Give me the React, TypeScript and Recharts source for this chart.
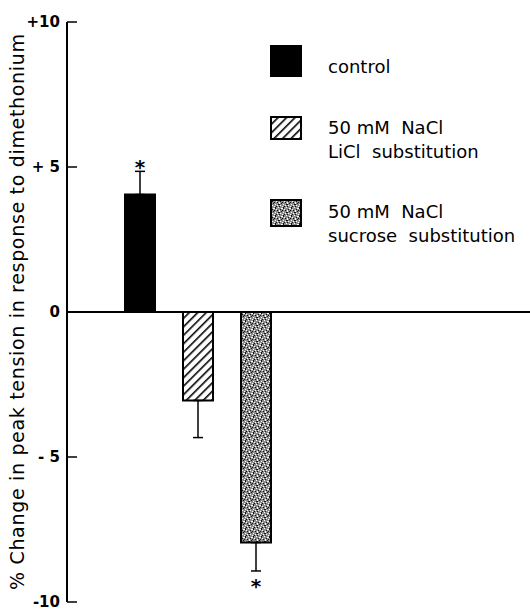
import { Bar, CartesianGrid, Cell, ComposedChart, ErrorBar, Legend, Scatter, XAxis, YAxis } from "recharts";

const CATEGORIES = ["control", "50 mM NaCl LiCl substitution", "50 mM NaCl sucrose substitution"];
const LEGEND_LINES = [["control"], ["50 mM  NaCl", "LiCl  substitution"], ["50 mM  NaCl", "sucrose  substitution"]];
const CHANGE = [4.05, -3.05, -7.95];
const ERR_UP = [0.8, 0, 0];
const ERR_DOWN = [0, 1.28, 0.98];
const STAR_AT = [5.15, null, -9.3];
const Y_TICKS = [-10, -5, 0, 5, 10];
const Y_TICK_LABELS = ["-10", "- 5", "0", "+ 5", "+10"];
const Y_LABEL = "% Change in peak tension in response to dimethonium";

const FILLS = ["#000", "url(#hatch)", "url(#stipple)"];
const FONT = "'DejaVu Sans', sans-serif";

// stipple texture: [x, y, colour] specks on a grey cell
const SPECKS: [number, number, string][] = [
	[0, 0, "#fff"], [3, 1, "#fff"], [4, 1, "#fff"], [1, 3, "#fff"], [1, 4, "#fff"],
	[6, 2, "#fff"], [5, 5, "#fff"], [7, 6, "#fff"], [2, 6, "#fff"], [4, 7, "#fff"],
	[2, 2, "#111"], [5, 0, "#111"], [5, 1, "#111"], [0, 5, "#111"], [1, 5, "#111"],
	[3, 4, "#111"], [7, 3, "#111"], [6, 7, "#111"], [1, 7, "#111"], [4, 3, "#111"],
];

const data = CATEGORIES.map((name, i) => ({
	name,
	change: CHANGE[i],
	err: [ERR_DOWN[i], ERR_UP[i]],
	star: STAR_AT[i],
}));

function AxisTick(props: any) {
	const { x, y, payload } = props;
	const idx = Y_TICKS.indexOf(payload.value);
	const ax = x + 8;
	return (
		<g>
			<line x1={ax} x2={ax + 10} y1={y} y2={y} stroke="#000" strokeWidth={1.5} />
			<text x={x + 1} y={y} textAnchor="end" dominantBaseline="central" fontFamily={FONT} fontWeight="bold" fontSize={15} fill="#000">
				{Y_TICK_LABELS[idx]}
			</text>
		</g>
	);
}

function Star(props: any) {
	const { cx, cy, payload } = props;
	if (payload?.star == null || cy == null || Number.isNaN(cy)) return null;
	return (
		<text x={cx} y={cy + 11} textAnchor="middle" fontFamily={FONT} fontWeight="bold" fontSize={20} fill="#000">
			*
		</text>
	);
}

const SWATCH = [
	{ top: 0, h: 32, textTop: 10 },
	{ top: 71, h: 24, textTop: 71 },
	{ top: 154, h: 28, textTop: 155 },
];

function LegendBox() {
	return (
		<div style={{ position: "relative", width: 260, height: 200, fontFamily: FONT, fontSize: 18, color: "#000" }}>
			{LEGEND_LINES.map((lines, i) => (
				<div key={i}>
					<svg
						width={32}
						height={SWATCH[i].h}
						style={{ position: "absolute", left: 0, top: SWATCH[i].top }}
					>
						<rect x={1} y={1} width={30} height={SWATCH[i].h - 2} fill={FILLS[i]} stroke="#000" strokeWidth={2} />
					</svg>
					<div style={{ position: "absolute", left: 58, top: SWATCH[i].textTop, lineHeight: "24px", whiteSpace: "pre" }}>
						{lines.map((l) => (
							<div key={l}>{l}</div>
						))}
					</div>
				</div>
			))}
		</div>
	);
}

export default function App() {
	return (
		<div style={{ position: "absolute", left: 0, top: 0, width: 530, height: 611, background: "#fff" }}>
			<ComposedChart width={530} height={611} data={data} margin={{ top: 22, right: 0, bottom: 9, left: 0 }}>
				<defs>
					<pattern id="hatch" width={6} height={6} patternUnits="userSpaceOnUse" patternTransform="rotate(45)">
						<rect width={6} height={6} fill="#fff" />
						<line x1={0} y1={0} x2={0} y2={6} stroke="#000" strokeWidth={3.2} />
					</pattern>
					<pattern id="stipple" width={8} height={8} patternUnits="userSpaceOnUse">
						<rect width={8} height={8} fill="#8c8c8c" />
						{SPECKS.map(([sx, sy, c], i) => (
							<rect key={i} x={sx} y={sy} width={1} height={1} fill={c} />
						))}
					</pattern>
				</defs>
				<CartesianGrid vertical={false} horizontalValues={[0]} stroke="#000" strokeWidth={2} />
				<XAxis dataKey="name" hide padding={{ left: 44, right: 245 }} />
				<YAxis
					domain={[-10, 10]}
					ticks={Y_TICKS}
					interval={0}
					width={67}
					tickSize={6}
					tickMargin={2}
					tickLine={false}
					axisLine={{ stroke: "#000", strokeWidth: 2 }}
					tick={<AxisTick />}
					label={(p: any) => {
						const vb = p.viewBox;
						const cx = vb.x + 17;
						const cy = vb.y + vb.height / 2;
						return (
							<text
								x={cx}
								y={cy}
								transform={`rotate(-90 ${cx} ${cy})`}
								textAnchor="middle"
								dominantBaseline="central"
								fontFamily={FONT}
								fontSize={19}
								textLength={556}
								lengthAdjust="spacing"
								fill="#000"
							>
								{Y_LABEL}
							</text>
						);
					}}
				/>
				<Bar dataKey="change" barSize={30} stroke="#000" strokeWidth={2} isAnimationActive={false}>
					{data.map((d, i) => (
						<Cell key={d.name} fill={FILLS[i]} />
					))}
					<ErrorBar dataKey="err" direction="y" width={5} stroke="#000" strokeWidth={1.5} isAnimationActive={false} />
				</Bar>
				<Scatter dataKey="star" shape={<Star />} isAnimationActive={false} />
				<Legend
					layout="vertical"
					align="center"
					verticalAlign="middle"
					wrapperStyle={{ left: 270, top: 45, width: 260, height: 200 }}
					content={() => <LegendBox />}
				/>
			</ComposedChart>
		</div>
	);
}
